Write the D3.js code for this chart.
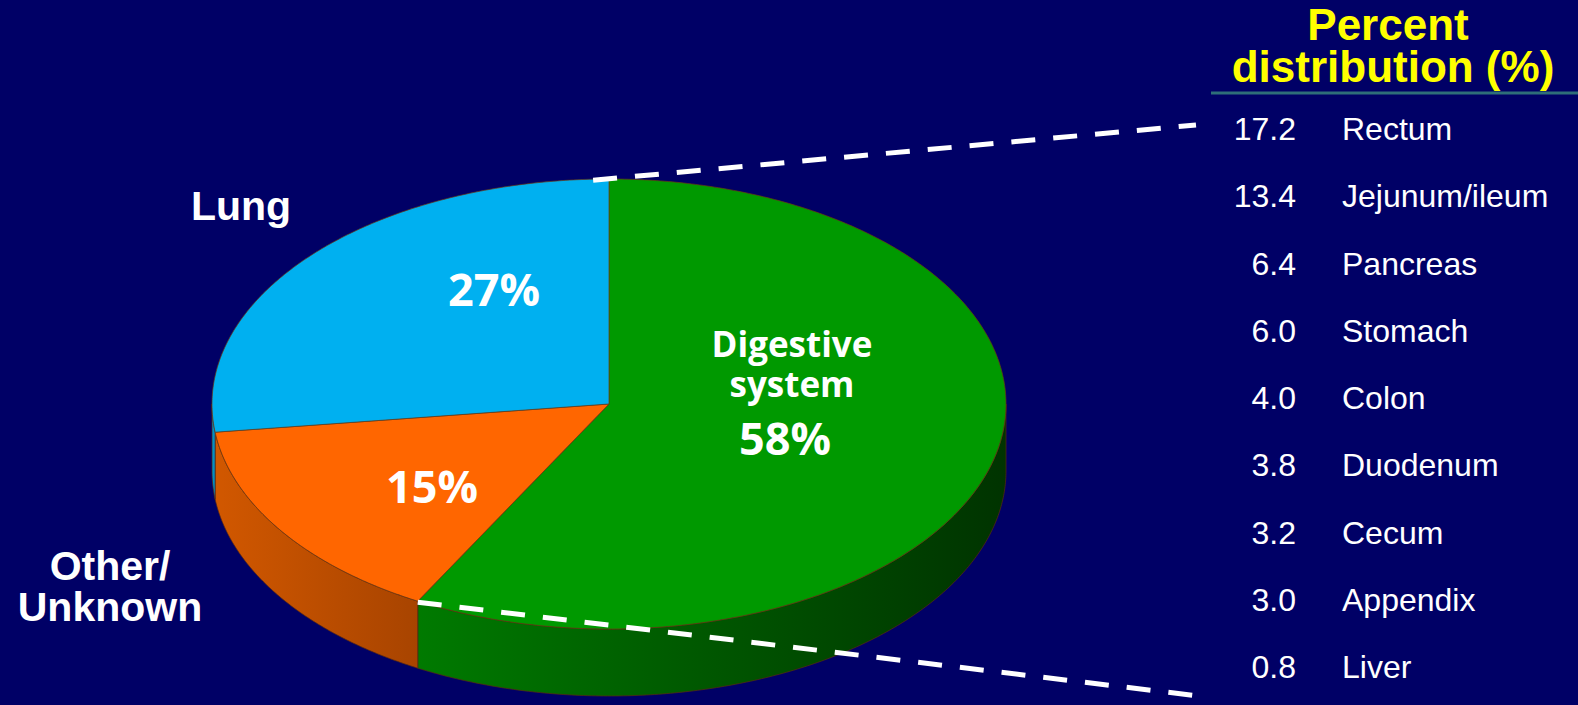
<!DOCTYPE html>
<html>
<head>
<meta charset="utf-8">
<script src="https://cdn.jsdelivr.net/npm/d3@7"></script>
<style>
  html, body { margin: 0; padding: 0; background: #000066; }
  svg { display: block; }
</style>
</head>
<body>
<div id="renderDiv"></div>
<script>
// pie data
const categories = ["Digestive system", "Other/Unknown", "Lung"];
const shares = [58, 15, 27];
const topColors = ["#009900", "#ff6600", "#00b0f0"];
const sideDark = ["#003300", "#a84400", "#0070a0"];
const sideLight = ["#007a00", "#d25800", "#0090c8"];

// breakdown of the digestive slice
const sites = ["Rectum", "Jejunum/ileum", "Pancreas", "Stomach", "Colon", "Duodenum", "Cecum", "Appendix", "Liver"];
const sitePercent = ["17.2", "13.4", "6.4", "6.0", "4.0", "3.8", "3.2", "3.0", "0.8"];

const WIDTH = 1578, HEIGHT = 705;
const cx = 609, cy = 404, rx = 397, ry = 225, depth = 67;

let svg = d3.select("#renderDiv").append("svg")
    .attr("width", WIDTH).attr("height", HEIGHT)
    .style("background-color", "#000066");

let color = d3.scaleOrdinal().domain(categories).range(topColors);

let pie = d3.pie().sort(null).value(function (d) { return d.v; });
let arcs = pie(categories.map(function (c, i) { return { name: c, v: shares[i], i: i }; }));

// point on the ellipse, angle clockwise from 12 o'clock
function ept(a, dy) {
    return [cx + rx * Math.sin(a), cy - ry * Math.cos(a) + (dy || 0)];
}
function arcPts(a0, a1, dy) {
    let n = Math.max(2, Math.ceil(Math.abs(a1 - a0) / 0.01));
    let pts = [];
    for (let k = 0; k <= n; k++) pts.push(ept(a0 + (a1 - a0) * k / n, dy));
    return pts;
}

let splitX = ept(arcs[0].endAngle, 0)[0];
let defs = svg.append("defs");
arcs.forEach(function (d) {
    let g = defs.append("linearGradient").attr("id", "side" + d.data.i)
        .attr("gradientUnits", "userSpaceOnUse")
        .attr("y1", 0).attr("y2", 0);
    if (d.data.i === 0) {
        g.attr("x1", splitX).attr("x2", cx + rx);
    } else {
        g.attr("x1", cx - rx).attr("x2", splitX);
    }
    g.append("stop").attr("offset", "0%").attr("stop-color", sideLight[d.data.i]);
    g.append("stop").attr("offset", "100%").attr("stop-color", sideDark[d.data.i]);
});

// side walls (front half only)
let sides = svg.append("g").attr("class", "sides");
arcs.forEach(function (d) {
    let a0 = Math.max(d.startAngle, Math.PI / 2), a1 = Math.min(d.endAngle, 3 * Math.PI / 2);
    if (a1 <= a0) return;
    let top = arcPts(a0, a1, 0), bot = arcPts(a1, a0, depth);
    sides.append("path")
        .attr("d", "M" + top.concat(bot).join("L") + "Z")
        .attr("fill", "url(#side" + d.data.i + ")")
        .attr("stroke", "#5a2a10").attr("stroke-width", 0.7);
});

// top faces
svg.append("g").attr("class", "tops")
    .selectAll("path")
    .data(arcs)
    .enter().append("path")
    .attr("d", function (d) {
        return "M" + [cx, cy] + "L" + arcPts(d.startAngle, d.endAngle, 0).join("L") + "Z";
    })
    .attr("fill", function (d) { return color(d.data.name); })
    .attr("stroke", "#6a3a10").attr("stroke-width", 0.7);

// dashed connector lines
let dig = arcs[0];
let pA = ept(dig.startAngle - 0.04, 0), pB = ept(dig.endAngle, 0);
svg.append("g").selectAll("line")
    .data([[pA, [1196, 125]], [pB, [1207, 697]]])
    .enter().append("line")
    .attr("x1", function (d) { return d[0][0]; }).attr("y1", function (d) { return d[0][1] + 1; })
    .attr("x2", function (d) { return d[1][0]; }).attr("y2", function (d) { return d[1][1]; })
    .attr("stroke", "#ffffff").attr("stroke-width", 5)
    .attr("stroke-dasharray", "24 18");

// labels inside slices
let inner = svg.append("g")
    .attr("font-family", "'Open Sans', 'Noto Sans', sans-serif")
    .attr("font-weight", "bold").attr("fill", "#ffffff").attr("text-anchor", "middle");
inner.append("text").attr("x", 494).attr("y", 306).attr("font-size", 45).text("27%");
inner.append("text").attr("x", 432).attr("y", 503).attr("font-size", 45).text("15%");
inner.append("text").attr("x", 792).attr("y", 357).attr("font-size", 35).text("Digestive");
inner.append("text").attr("x", 792).attr("y", 397).attr("font-size", 35).text("system");
inner.append("text").attr("x", 785).attr("y", 455).attr("font-size", 45).text("58%");

// outer category labels
let outer = svg.append("g")
    .attr("font-family", "'Liberation Sans', Arial, sans-serif")
    .attr("font-weight", "bold").attr("fill", "#ffffff").attr("text-anchor", "middle")
    .attr("font-size", 41);
outer.append("text").attr("x", 241).attr("y", 220).text("Lung");
outer.append("text").attr("x", 110).attr("y", 580).text("Other/");
outer.append("text").attr("x", 110).attr("y", 621).text("Unknown");

// header
let head = svg.append("g")
    .attr("font-family", "'Liberation Sans', Arial, sans-serif")
    .attr("font-weight", "bold").attr("fill", "#ffff00").attr("text-anchor", "middle")
    .attr("font-size", 44);
head.append("text").attr("x", 1388).attr("y", 40).text("Percent");
head.append("text").attr("x", 1393).attr("y", 82).text("distribution (%)");
svg.append("line").attr("x1", 1211).attr("x2", WIDTH).attr("y1", 93).attr("y2", 93)
    .attr("stroke", "#2e6e78").attr("stroke-width", 3);

// site list
let rowY = d3.scalePoint().domain(sites).range([129, 667]);
let rows = svg.append("g")
    .attr("font-family", "'Liberation Sans', Arial, sans-serif")
    .attr("fill", "#ffffff").attr("font-size", 32)
    .selectAll("g").data(sites).enter().append("g")
    .attr("transform", function (d) { return "translate(0," + rowY(d) + ")"; });
rows.append("text").attr("x", 1296).attr("dy", "0.35em").attr("text-anchor", "end")
    .text(function (d, i) { return sitePercent[i]; });
rows.append("text").attr("x", 1342).attr("dy", "0.35em")
    .text(function (d) { return d; });
</script>
</body>
</html>
